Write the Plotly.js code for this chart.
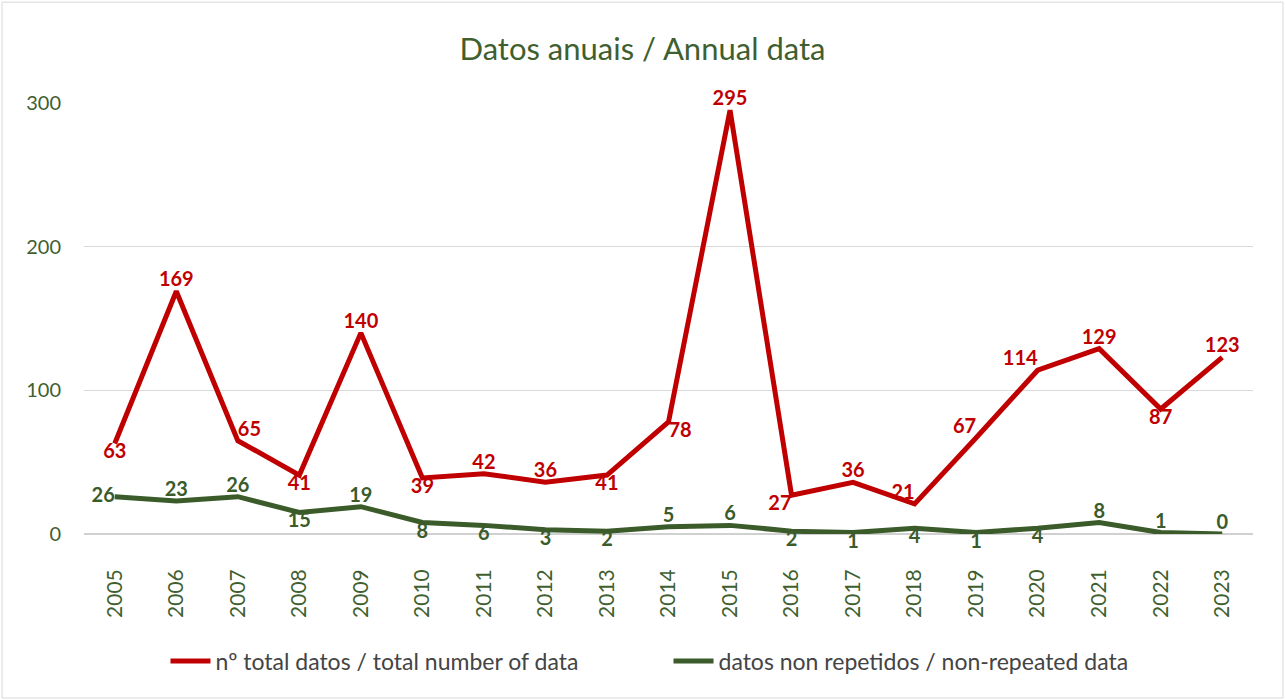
<!DOCTYPE html>
<html><head><meta charset="utf-8">
<script src="https://cdn.plot.ly/plotly-3.0.1.min.js"></script>
<style>html,body{margin:0;padding:0;background:#fff;}#chart{width:1285px;height:700px;}</style>
</head><body><div id="chart"></div>
<script>
const years = ['2005','2006','2007','2008','2009','2010','2011','2012','2013','2014','2015','2016','2017','2018','2019','2020','2021','2022','2023'];
const totalData = [63,169,65,41,140,39,42,36,41,78,295,27,36,21,67,114,129,87,123];
const nonRepeated = [26,23,26,15,19,8,6,3,2,5,6,2,1,4,1,4,8,1,0];
const totalPos = ['bottom center','top center','top right','bottom center','top center','bottom center','top center','top center','bottom center','bottom right','top center','bottom left','top center','top left','top left','top left','top center','bottom center','top center'];
const nonRepPos = ['middle left','top center','top center','bottom center','top center','bottom center','bottom center','bottom center','bottom center','top center','top center','bottom center','bottom center','bottom center','bottom center','bottom center','top center','top center','top center'];
const seriesNames = ['nº total datos / total number of data','datos non repetidos / non-repeated data'];
const titleText = 'Datos anuais / Annual data';

const red = '#c00000', green = '#3b5b2a', txt = '#3f5f30';
const font = 'Lato, "Open Sans", "Liberation Sans", sans-serif';

const traces = [
 {x: years, y: totalData, name: seriesNames[0], type:'scatter', mode:'lines+text',
  line:{color:red,width:5}, text: totalData.map(String), textposition: totalPos,
  textfont:{color:red,size:20,family:font,weight:'bold'}, cliponaxis:false},
 {x: years, y: nonRepeated, name: seriesNames[1], type:'scatter', mode:'lines+text',
  line:{color:green,width:5}, text: nonRepeated.map(String), textposition: nonRepPos,
  textfont:{color:green,size:20,family:font,weight:'bold'}, cliponaxis:false}
];
const layout = {
 width:1285, height:700,
 margin:{l:84,r:32,t:103,b:166},
 paper_bgcolor:'#fff', plot_bgcolor:'#fff',
 font:{family:font,color:txt},
 title:{text:titleText, x:0.5, xanchor:'center', y:0.93, yanchor:'middle', font:{size:31,color:txt,family:font}},
 xaxis:{type:'category', tickangle:-90, tickfont:{size:21,color:txt}, showgrid:false, zeroline:false,
   showline:false, ticks:'', range:[-0.5,18.5], ticklabelstandoff:30, automargin:false},
 yaxis:{range:[0,300], tickvals:[0,100,200,300], tickfont:{size:20,color:txt}, gridcolor:'#d9d9d9', gridwidth:1.3,
   zeroline:true, zerolinecolor:'#d0d0d0', zerolinewidth:1.5, showline:false, ticks:'', ticklabelstandoff:22, automargin:false},
 showlegend:true,
 legend:{orientation:'h', x:0.5, xanchor:'center', y:-0.295, yanchor:'middle', font:{size:23,color:'#444',family:font}, itemwidth:40, entrywidth:448, entrywidthmode:'pixels'},
 shapes:[{type:'rect', xref:'paper', yref:'paper', x0:-0.0701, x1:1.0257, y0:-0.3805, y1:1.234, line:{color:'#d9d9d9',width:1}, fillcolor:'rgba(0,0,0,0)'}]
};
Plotly.newPlot('chart', traces, layout, {displayModeBar:false});
</script></body></html>
